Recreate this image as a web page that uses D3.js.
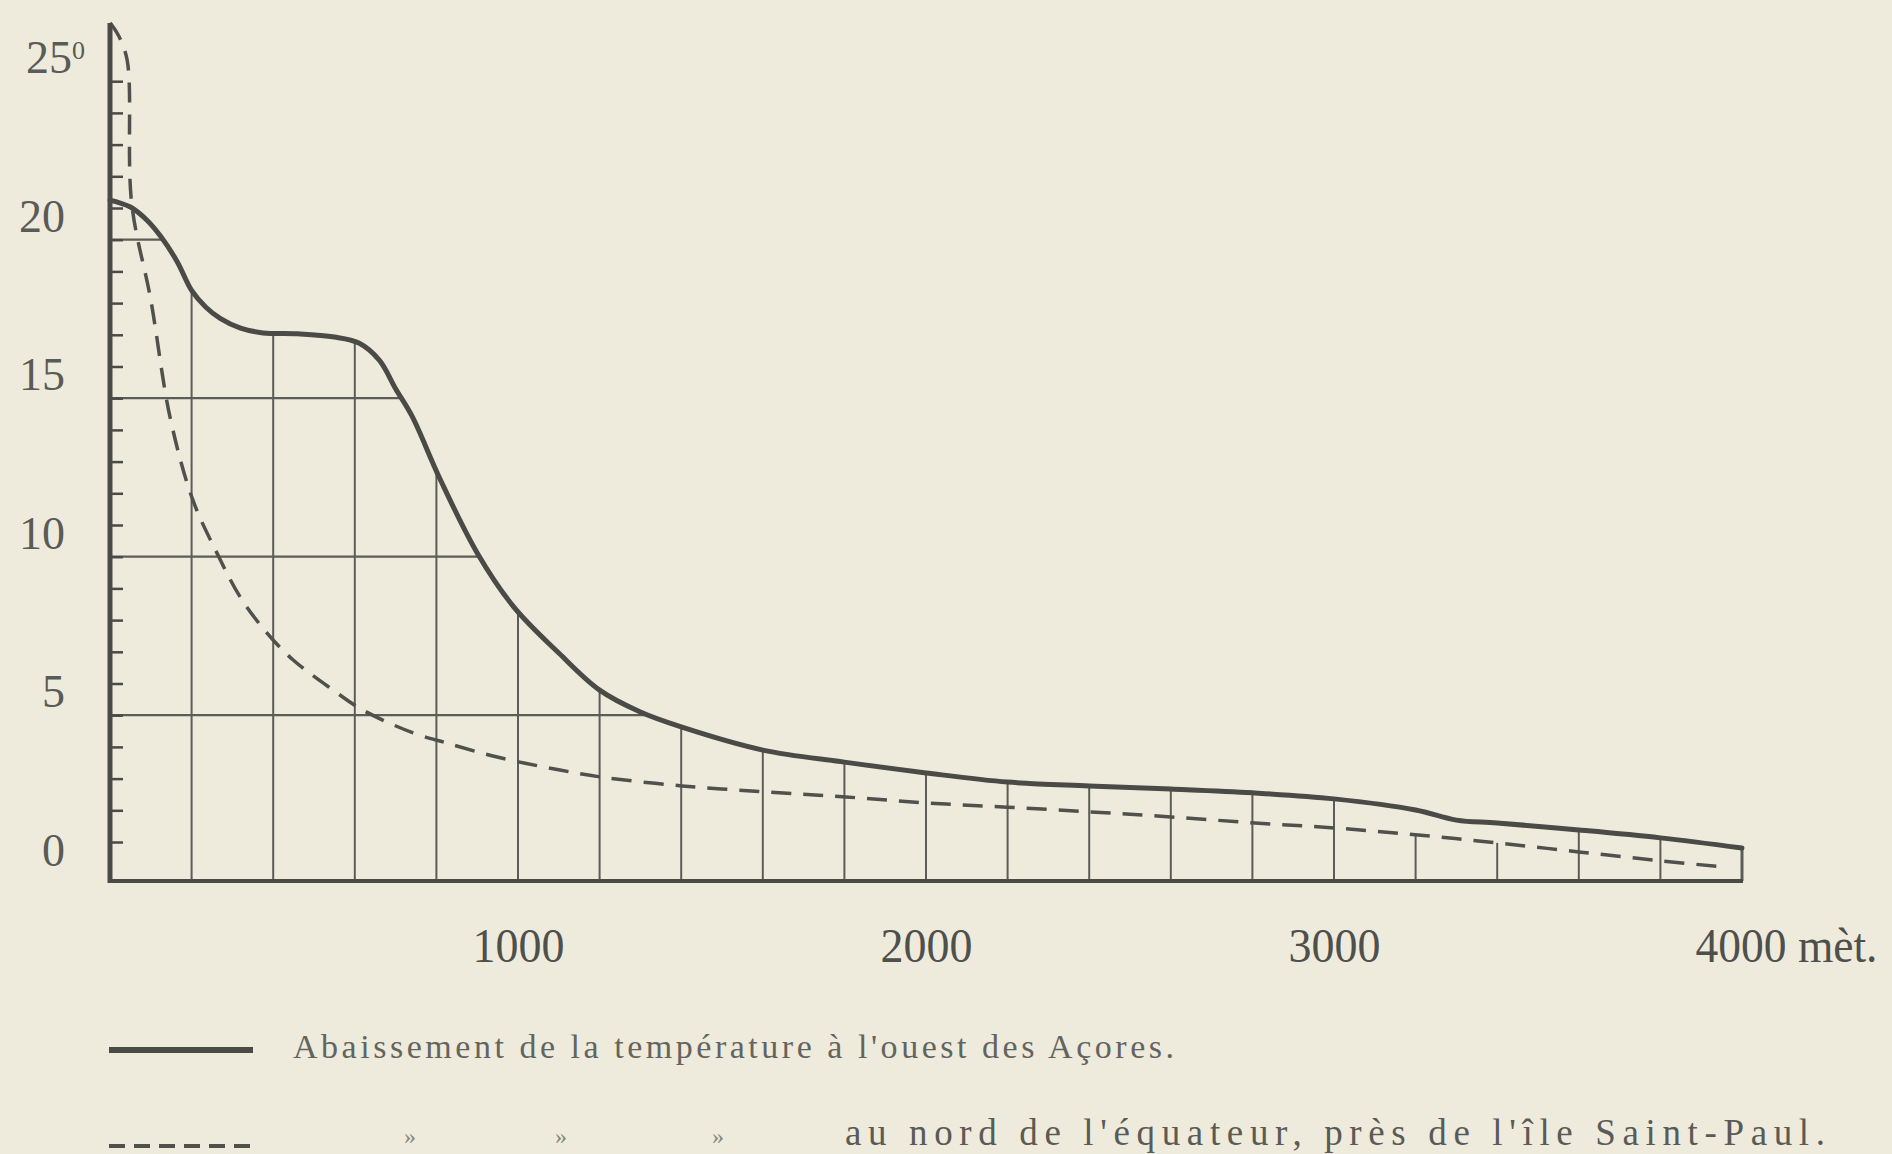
<!DOCTYPE html>
<html>
<head>
<meta charset="utf-8">
<script src="https://cdn.jsdelivr.net/npm/d3@7"></script>
<style>
  html, body { margin: 0; padding: 0; background: #eeebdd; }
  svg { display: block; }
</style>
</head>
<body>
<div id="chart"></div>
<script>

// Values: depth in metres, temperature in degrees

// solid curve: west of the Azores
var azoresDepth = [0, 50, 90, 125, 165, 200, 235, 270, 320, 375, 460, 550, 610, 660, 700, 740, 810, 900, 990,
    1100, 1200, 1300, 1400, 1600, 1800, 2000, 2200, 2400, 2600, 2800, 3000, 3200, 3300, 3400, 3600, 3800, 4000];
var azoresTemp = [20.25, 20.03, 19.62, 19.09, 18.3, 17.4, 16.87, 16.52, 16.21, 16.06, 16.03, 15.93, 15.74, 15.2, 14.3, 13.44, 11.42, 9.12, 7.41,
    5.96, 4.79, 4.1, 3.63, 2.9, 2.52, 2.18, 1.89, 1.77, 1.67, 1.55, 1.36, 1.01, 0.69, 0.6, 0.38, 0.13, -0.19];

// dashed curve: north of the equator, near Saint-Paul
var equatorDepth = [0, 20, 42, 53, 100, 147, 203, 262, 319, 385, 449, 547, 620, 743, 826, 949,
    1103, 1203, 1402, 1608, 1804, 2002, 2199, 2404, 2600, 2806, 3005, 3206, 3402, 3605, 3806, 3956];
var equatorTemp = [25.84, 25.46, 24.67, 20.16, 17.1, 13.41, 10.79, 9.12, 7.73, 6.59, 5.74, 4.79, 4.16, 3.44, 3.12, 2.68,
    2.27, 2.05, 1.77, 1.58, 1.42, 1.23, 1.1, 0.95, 0.79, 0.6, 0.44, 0.22, -0.03, -0.32, -0.6, -0.79];

// grid
var gridDepths = d3.range(200, 4001, 200);
var shortGridDepths = [3200, 3400];   // these stop at the dashed curve
var gridTemps = [4, 9, 14, 19];

// axes
var yTicks = d3.range(0, 25);
var yLabels = [0, 5, 10, 15, 20, 25];
var xLabels = [1000, 2000, 3000, 4000];

var legendLabels = [
    "Abaissement de la température à l'ouest des Açores.",
    "au nord de l'équateur, près de l'île Saint-Paul."
];


// SVG setup
var svgWidth = 1892;
var svgHeight = 1154;
var baseY = 881;
var topY = 23;
var ink = "#4a4a46";
var paper = "#eeebdd";

var svg = d3.select("#chart")
    .append("svg")
    .attr("width", svgWidth)
    .attr("height", svgHeight);

svg.append("rect")
    .attr("width", svgWidth)
    .attr("height", svgHeight)
    .attr("fill", paper);

// scales
var x = d3.scaleLinear()
    .domain([0, 4000])
    .range([110, 1742]);

var y = d3.scaleLinear()
    .domain([0, 25])
    .range([842, 49.5]);

var line = d3.line()
    .x(d => x(d[0]))
    .y(d => y(d[1]))
    .curve(d3.curveCatmullRom.alpha(0.5));

var gridGroup = svg.append("g");
var curveGroup = svg.append("g");

// curves (drawn first so the grid can be cut to them)
var solidPath = curveGroup.append("path")
    .datum(d3.zip(azoresDepth, azoresTemp))
    .attr("d", line)
    .attr("fill", "none")
    .attr("stroke", ink)
    .attr("stroke-width", 5)
    .attr("stroke-linecap", "round");

var dashPath = curveGroup.append("path")
    .datum(d3.zip(equatorDepth, equatorTemp))
    .attr("d", line)
    .attr("fill", "none")
    .attr("stroke", "#50504c")
    .attr("stroke-width", 3.5)
    .attr("stroke-dasharray", "20,12");

// find a point on a drawn curve
function pointWhere(path, key, value) {
    var node = path.node();
    var lo = 0, hi = node.getTotalLength();
    for (var i = 0; i < 40; i++) {
        var mid = (lo + hi) / 2;
        if (node.getPointAtLength(mid)[key] < value) lo = mid; else hi = mid;
    }
    return node.getPointAtLength(lo);
}

// vertical grid lines, from the base up to the curve
gridDepths.forEach(function(d) {
    var curve = shortGridDepths.indexOf(d) >= 0 ? dashPath : solidPath;
    var top = pointWhere(curve, "x", x(d)).y;
    gridGroup.append("line")
        .attr("x1", x(d)).attr("x2", x(d))
        .attr("y1", top).attr("y2", baseY)
        .attr("stroke", "#5c5c58")
        .attr("stroke-width", d === 4000 ? 3 : 2);
});

// horizontal grid lines, from the axis to the solid curve
gridTemps.forEach(function(t) {
    var end = pointWhere(solidPath, "y", y(t)).x;
    gridGroup.append("line")
        .attr("x1", x(0)).attr("x2", end)
        .attr("y1", y(t)).attr("y2", y(t))
        .attr("stroke", "#5c5c58")
        .attr("stroke-width", 2.2);
});

// base line and vertical axis
svg.append("line")
    .attr("x1", x(0) - 2).attr("x2", x(4000) + 1)
    .attr("y1", baseY).attr("y2", baseY)
    .attr("stroke", ink)
    .attr("stroke-width", 4);

svg.append("line")
    .attr("x1", x(0)).attr("x2", x(0))
    .attr("y1", topY).attr("y2", baseY + 2)
    .attr("stroke", ink)
    .attr("stroke-width", 5);

// small degree ticks
var tickAxis = d3.axisRight(y)
    .tickValues(yTicks)
    .tickSize(13)
    .tickFormat("");

var tickGroup = svg.append("g")
    .attr("transform", `translate(${x(0)}, 0)`)
    .call(tickAxis);
tickGroup.select(".domain").remove();
tickGroup.selectAll("line")
    .attr("stroke", ink)
    .attr("stroke-width", 2.5);

// degree labels
var yLabelAxis = d3.axisLeft(y)
    .tickValues(yLabels)
    .tickSize(0)
    .tickPadding(0);

var yLabelGroup = svg.append("g")
    .attr("transform", "translate(65, 0)")
    .call(yLabelAxis);
yLabelGroup.select(".domain").remove();
yLabelGroup.selectAll("text")
    .attr("dy", "0.5em")
    .attr("font-family", "Liberation Serif")
    .attr("font-size", 46)
    .attr("fill", "#5a5a56");
yLabelGroup.selectAll("text")
    .filter(d => d === 25)
    .attr("x", 20)
    .text("25")
    .append("tspan")
    .attr("dy", "-0.55em")
    .attr("font-size", 26)
    .text("0");

// depth labels
var xLabelAxis = d3.axisBottom(x)
    .tickValues(xLabels)
    .tickSize(0)
    .tickFormat(d => d === 4000 ? "4000 mèt." : d);

var xLabelGroup = svg.append("g")
    .attr("transform", `translate(0, ${baseY})`)
    .call(xLabelAxis);
xLabelGroup.select(".domain").remove();
xLabelGroup.selectAll("text")
    .attr("y", 81)
    .attr("dy", 0)
    .attr("font-family", "Liberation Serif")
    .attr("font-size", 48)
    .attr("fill", "#4f4f4b")
    .attr("textLength", 92)
    .attr("lengthAdjust", "spacingAndGlyphs");
xLabelGroup.selectAll("text")
    .filter(d => d === 4000)
    .attr("text-anchor", "start")
    .attr("x", -47)
    .attr("textLength", 182);

// legend
var legend = svg.append("g");

legend.append("line")
    .attr("x1", 109).attr("x2", 253)
    .attr("y1", 1050).attr("y2", 1050)
    .attr("stroke", ink)
    .attr("stroke-width", 6);

legend.append("text")
    .attr("x", 293).attr("y", 1058)
    .attr("font-family", "Liberation Serif")
    .attr("font-size", 34)
    .attr("fill", "#64645f")
    .attr("textLength", 881)
    .text(legendLabels[0]);

legend.append("line")
    .attr("x1", 109).attr("x2", 253)
    .attr("y1", 1146).attr("y2", 1146)
    .attr("stroke", "#50504c")
    .attr("stroke-width", 4)
    .attr("stroke-dasharray", "16,9");

[404, 555, 712].forEach(function(px) {
    legend.append("text")
        .attr("x", px).attr("y", 1144)
        .attr("font-family", "Liberation Serif")
        .attr("font-size", 24)
        .attr("fill", "#85857f")
        .text("»");
});

legend.append("text")
    .attr("x", 845).attr("y", 1145)
    .attr("font-family", "Liberation Serif")
    .attr("font-size", 37)
    .attr("fill", "#5a5a56")
    .attr("textLength", 980)
    .text(legendLabels[1]);

</script>
</body>
</html>
